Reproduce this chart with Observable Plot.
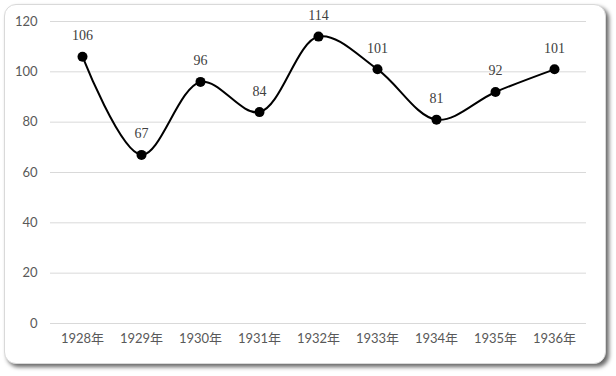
<!DOCTYPE html>
<html><head><meta charset="utf-8">
<script src="https://cdn.jsdelivr.net/npm/d3@7"></script>
<script src="https://cdn.jsdelivr.net/npm/@observablehq/plot@0.6"></script>
<style>
body{margin:0;background:#fff;}
#wrap{position:relative;width:616px;height:376px;overflow:hidden;}
#frame{position:absolute;left:4px;top:4px;width:600px;height:358px;border:1px solid #d9d9d9;border-radius:12px;box-shadow:3px 3px 4px rgba(0,0,0,0.6);background:#fff;}
#chart{position:absolute;left:0;top:0;}
</style></head>
<body><div id="wrap"><div id="frame"></div><div id="chart"></div></div>
<script>
const years = ["1928年","1929年","1930年","1931年","1932年","1933年","1934年","1935年","1936年"];
const values = [106, 67, 96, 84, 114, 101, 81, 92, 101];
const yTicks = [0, 20, 40, 60, 80, 100, 120];
const data = years.map((y, i) => ({year: y, value: values[i]}));

const chart = Plot.plot({
  width: 616, height: 376,
  marginLeft: 50, marginRight: 30, marginTop: 21, marginBottom: 53,
  style: {background: "transparent", fontFamily: "Lato, 'Noto Sans CJK SC', sans-serif", fontSize: "13px", color: "#595959"},
  x: {type: "point", domain: years, padding: 0.5, label: null, tickSize: 0, tickPadding: 10},
  y: {domain: [0, 120], ticks: yTicks, label: null, tickSize: 0, tickPadding: 13},
  marks: [
    Plot.gridY(yTicks, {stroke: "#d9d9d9", strokeOpacity: 1, strokeWidth: 1}),
    Plot.line(data, {x: "year", y: "value", curve: "catmull-rom", stroke: "#000", strokeWidth: 2}),
    Plot.dot(data, {x: "year", y: "value", r: 5, fill: "#000", stroke: "none"}),
    Plot.text(data, {x: "year", y: "value", text: d => String(d.value), dy: -21, fill: "#404040", fontSize: 14, fontFamily: "'Liberation Serif', serif"})
  ]
});
document.getElementById("chart").appendChild(chart);
</script></body></html>
